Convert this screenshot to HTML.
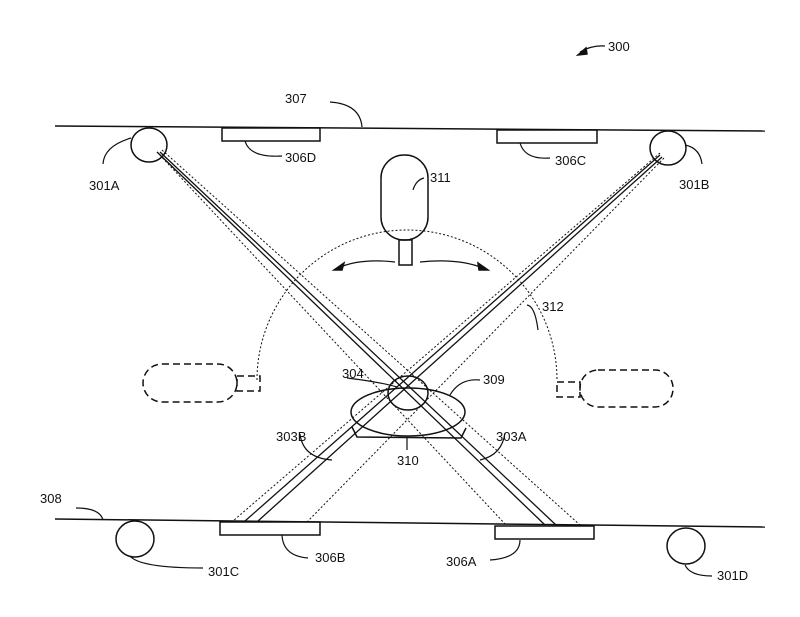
<!DOCTYPE html>
<html><head><style>body{margin:0;background:#fff}svg{display:block}text{font-family:"Liberation Sans",Arial,sans-serif;font-size:13px;fill:#111}</style></head>
<body>
<svg width="800" height="617" viewBox="0 0 800 617" xmlns="http://www.w3.org/2000/svg" fill="none" stroke="#111" stroke-width="1.5">
<!-- walls -->
<line x1="55" y1="126" x2="765" y2="131"/>
<line x1="55" y1="519" x2="765" y2="527"/>
<!-- tiles -->
<rect x="222" y="128" width="98" height="13"/>
<rect x="497" y="130" width="100" height="13"/>
<rect x="220" y="522" width="100" height="13"/>
<rect x="495" y="526" width="99" height="13"/>
<!-- cameras -->
<ellipse cx="149" cy="145" rx="18" ry="17"/>
<ellipse cx="668" cy="148" rx="18" ry="17"/>
<ellipse cx="135" cy="539" rx="19" ry="18"/>
<ellipse cx="686" cy="546" rx="19" ry="18"/>
<!-- rays -->
<g stroke-width="1.3">
<line x1="157" y1="152" x2="545" y2="525"/>
<line x1="160" y1="152" x2="556" y2="525"/>
<line x1="660" y1="155" x2="245" y2="521"/>
<line x1="662" y1="157" x2="258" y2="521"/>
</g>
<g stroke-width="1" stroke-dasharray="2,2">
<line x1="157" y1="152" x2="506" y2="525"/>
<line x1="162" y1="150" x2="580" y2="525"/>
<line x1="660" y1="153" x2="233" y2="521"/>
<line x1="664" y1="158" x2="307" y2="522"/>
</g>
<!-- robot top -->
<rect x="381" y="155" width="47" height="85" rx="23"/>
<rect x="399" y="240" width="13" height="25"/>
<!-- arc -->
<path d="M257 380 A150 150 0 0 1 557 380" stroke-width="1" stroke-dasharray="2,2"/>
<path d="M395 262 Q360 258 338 268" stroke-width="1.2"/>
<path d="M334 270 l10 -7 l-2 7 z" fill="#111"/>
<path d="M420 262 Q458 258 483 268" stroke-width="1.2"/>
<path d="M488 270 l-10 -7 l1 7 z" fill="#111"/>
<!-- dashed robots -->
<g stroke-dasharray="7,4">
<rect x="143" y="364" width="94" height="38" rx="19"/>
<rect x="237" y="376" width="23" height="15"/>
<rect x="580" y="370" width="93" height="37" rx="18"/>
<rect x="557" y="382" width="23" height="15"/>
</g>
<!-- object -->
<ellipse cx="408" cy="412" rx="57" ry="24"/>
<ellipse cx="408" cy="393" rx="20" ry="17"/>
<path d="M352 427 L357 437 L461 438 L466 428"/>
<!-- leaders -->
<g stroke-width="1.2">
<path d="M330 102 Q360 104 362 127"/>
<path d="M131 138 Q104 146 103 164"/>
<path d="M245 141 Q250 158 282 156"/>
<path d="M520 143 Q525 160 550 158"/>
<path d="M685 145 Q700 148 702 164"/>
<path d="M424 178 Q416 180 413 190"/>
<path d="M527 305 Q535 306 538 330"/>
<path d="M347 378 Q380 382 397 387"/>
<path d="M480 380 Q460 378 450 395"/>
<path d="M300 434 Q303 458 332 460"/>
<path d="M505 433 Q502 455 480 460"/>
<path d="M407 450 L407 437"/>
<path d="M76 508 Q100 508 103 520"/>
<path d="M130 556 Q140 568 203 568"/>
<path d="M282 535 Q283 556 308 558"/>
<path d="M520 540 Q520 558 490 560"/>
<path d="M685 565 Q690 576 712 576"/>
<path d="M580 52 Q592 45 605 46"/>
</g>
<path d="M578 55 l8 -7 l1 6 z" fill="#111"/>
<g stroke="none">
<text x="608" y="51">300</text>
<text x="285" y="103">307</text>
<text x="89" y="190">301A</text>
<text x="285" y="162">306D</text>
<text x="555" y="165">306C</text>
<text x="679" y="189">301B</text>
<text x="430" y="182">311</text>
<text x="542" y="311">312</text>
<text x="342" y="378">304</text>
<text x="483" y="384">309</text>
<text x="276" y="441">303B</text>
<text x="496" y="441">303A</text>
<text x="397" y="465">310</text>
<text x="40" y="503">308</text>
<text x="208" y="576">301C</text>
<text x="315" y="562">306B</text>
<text x="446" y="566">306A</text>
<text x="717" y="580">301D</text>
</g>
</svg>
</body></html>
